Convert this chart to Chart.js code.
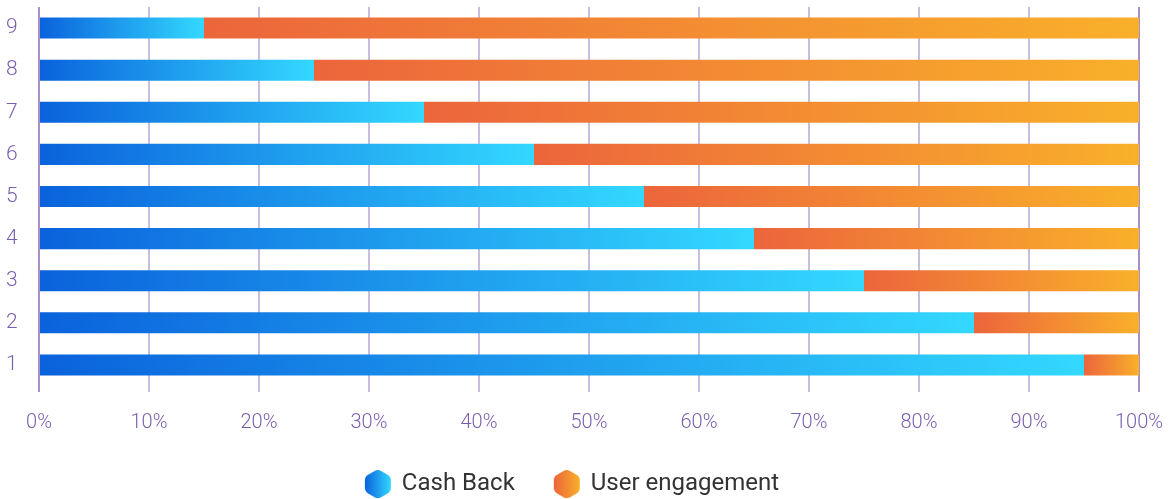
<!DOCTYPE html>
<html>
<head>
<meta charset="utf-8">
<script src="https://cdn.jsdelivr.net/npm/chart.js@4/dist/chart.umd.min.js"></script>
<style>
  html, body { margin: 0; padding: 0; background: #fff; }
  #wrap { width: 1168px; height: 499px; }
</style>
</head>
<body>
<div id="wrap"><canvas id="chart"></canvas></div>
<script>
// categories top to bottom
const labels = ["9", "8", "7", "6", "5", "4", "3", "2", "1"];
const cashBack = [15, 25, 35, 45, 55, 65, 75, 85, 95];
const userEngagement = [85, 75, 65, 55, 45, 35, 25, 15, 5];
const xTicks = [0, 10, 20, 30, 40, 50, 60, 70, 80, 90, 100];

const blueFrom = "#0a62dc", blueTo = "#33d8ff";
const orangeFrom = "#ec653c", orangeTo = "#f9b02a";

// gradient running along each bar segment
function barGradient(ctx, from, to, offsetOf) {
  const chart = ctx.chart;
  const x = chart.scales.x;
  if (!x || !chart.chartArea || ctx.dataIndex === undefined) return from;
  const start = offsetOf(ctx.dataIndex);
  const end = start + ctx.raw;
  const x0 = x.getPixelForValue(start), x1 = x.getPixelForValue(end);
  if (!isFinite(x0) || !isFinite(x1) || x0 === x1) return from;
  const g = chart.ctx.createLinearGradient(x0, 0, x1, 0);
  g.addColorStop(0, from);
  g.addColorStop(1, to);
  return g;
}

// hexagon icon for legend
function hexIcon(from, to) {
  const c = document.createElement("canvas");
  c.width = 28; c.height = 32;
  const g = c.getContext("2d");
  const grad = g.createLinearGradient(1, 0, 27, 0);
  grad.addColorStop(0, from);
  grad.addColorStop(1, to);
  const pts = [[14, 1], [27, 8.5], [27, 23.5], [14, 31], [1, 23.5], [1, 8.5]];
  g.beginPath();
  for (let i = 0; i < 6; i++) {
    const p = pts[i], n = pts[(i + 1) % 6], pr = pts[(i + 5) % 6];
    const a = [p[0] + (pr[0] - p[0]) * 0.25, p[1] + (pr[1] - p[1]) * 0.25];
    const b = [p[0] + (n[0] - p[0]) * 0.25, p[1] + (n[1] - p[1]) * 0.25];
    if (i === 0) g.moveTo(a[0], a[1]); else g.lineTo(a[0], a[1]);
    g.quadraticCurveTo(p[0], p[1], b[0], b[1]);
  }
  g.closePath();
  g.fillStyle = grad;
  g.fill();
  return c;
}
const icons = [hexIcon(blueFrom, blueTo), hexIcon(orangeFrom, orangeTo)];

new Chart(document.getElementById("chart"), {
  type: "bar",
  data: {
    labels: labels,
    datasets: [
      {
        label: "Cash Back",
        data: cashBack,
        backgroundColor: ctx => barGradient(ctx, blueFrom, blueTo, () => 0),
        barPercentage: 1,
        categoryPercentage: 0.5
      },
      {
        label: "User engagement",
        data: userEngagement,
        backgroundColor: ctx => barGradient(ctx, orangeFrom, orangeTo, i => cashBack[i]),
        barPercentage: 1,
        categoryPercentage: 0.5
      }
    ]
  },
  options: {
    indexAxis: "y",
    responsive: true,
    maintainAspectRatio: false,
    animation: false,
    layout: { padding: { top: 7, right: 29, left: 6, bottom: -7 } },
    scales: {
      x: {
        stacked: true,
        min: 0,
        max: 100,
        afterBuildTicks: axis => { axis.ticks = xTicks.map(v => ({ value: v })); },
        afterFit: axis => {
          axis.height -= 22;
          axis.paddingLeft = 12;
          axis.paddingRight = 24;
        },
        ticks: {
          callback: v => v + "%",
          color: "#7b5faf",
          font: { family: "Roboto", size: 20, weight: 300 },
          padding: 19
        },
        grid: {
          color: c => (c.index === 0 || c.index === 10) ? "#a68fcb" : "#cbbde0",
          lineWidth: 2,
          tickLength: 6
        },
        border: { display: false }
      },
      y: {
        stacked: true,
        afterFit: axis => {
          axis.width = 33;
          axis.paddingTop = 0;
          axis.paddingBottom = 0;
        },
        ticks: {
          color: "#7b5faf",
          font: { family: "Roboto", size: 21, weight: 300 },
          padding: 0,
          crossAlign: "far"
        },
        grid: { display: false },
        border: { display: false }
      }
    },
    plugins: {
      tooltip: { enabled: false },
      legend: {
        position: "bottom",
        labels: {
          usePointStyle: true,
          color: "#333333",
          font: { family: "Roboto", size: 24 },
          padding: 40,
          generateLabels: chart => chart.data.datasets.map((ds, i) => ({
            text: ds.label,
            pointStyle: icons[i],
            fillStyle: "transparent",
            strokeStyle: "transparent",
            lineWidth: 0,
            fontColor: "#333333",
            datasetIndex: i
          }))
        }
      }
    }
  }
});
</script>
</body>
</html>
